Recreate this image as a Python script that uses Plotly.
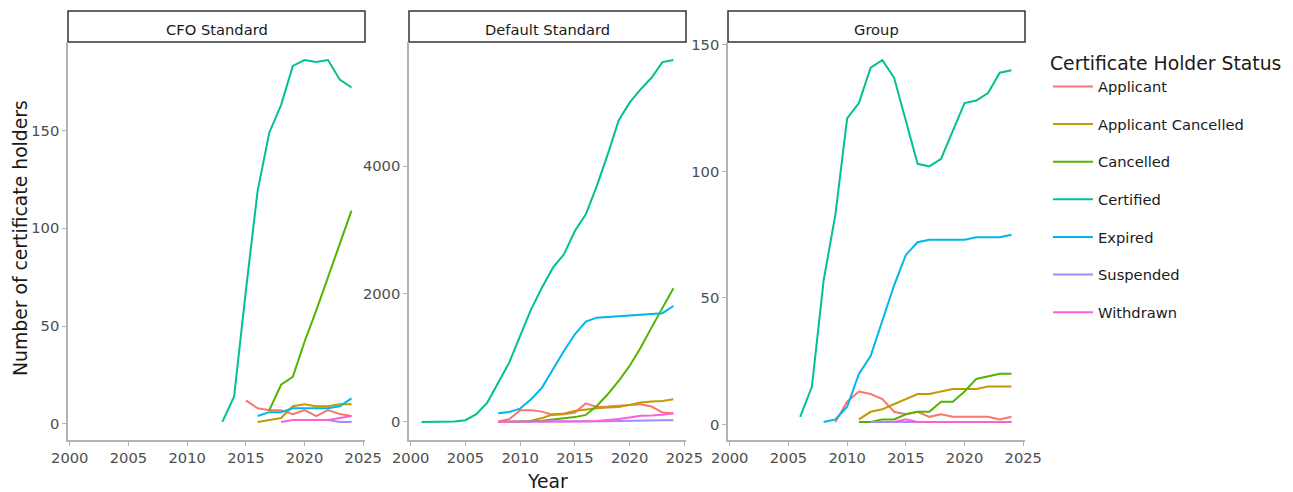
import plotly.graph_objects as go

# ---------------- data ----------------
panels = ["CFO Standard", "Default Standard", "Group"]
statuses = ["Applicant", "Applicant Cancelled", "Cancelled", "Certified",
            "Expired", "Suspended", "Withdrawn"]
colors = ["#F8766D", "#C49A00", "#53B400", "#00C094", "#00B6EB", "#A58AFF", "#FB61D7"]

# CFO Standard (first year, values)
cfo_applicant = (2015, [12, 8, 7, 7, 5, 7, 4, 7, 5, 4])
cfo_applicant_cancelled = (2016, [1, 2, 3, 9, 10, 9, 9, 10, 10])
cfo_cancelled = (2017, [7, 20, 24, 42, 58, 75, 93, 109])
cfo_certified = (2013, [1, 14, 68, 119, 149, 163, 183, 186, 185, 186, 176, 172])
cfo_expired = (2016, [4, 6, 6, 8, 8, 8, 8, 9, 13])
cfo_suspended = (2019, [2, 2, 2, 2, 1, 1])
cfo_withdrawn = (2018, [1, 2, 2, 2, 2, 3, 4])

# Default Standard
def_applicant = (2008, [5, 42, 182, 182, 161, 109, 120, 146, 290, 235, 240, 250, 265, 276, 240, 146, 130])
def_applicant_cancelled = (2008, [0, 0, 5, 20, 60, 120, 130, 172, 198, 214, 224, 234, 266, 302, 318, 328, 354])
def_cancelled = (2008, [0, 0, 5, 10, 20, 40, 55, 75, 109, 250, 432, 640, 875, 1161, 1474, 1786, 2089])
def_certified = (2001, [0, 0, 2, 5, 26, 120, 302, 614, 926, 1344, 1760, 2100, 2411, 2620, 2984,
                        3245, 3687, 4182, 4714, 4990, 5198, 5380, 5625, 5656])
def_expired = (2008, [136, 156, 208, 354, 536, 823, 1109, 1370, 1568, 1630, 1640, 1650, 1660, 1670, 1680, 1700, 1812])
def_suspended = (2008, [0, 0, 0, 0, 0, 0, 0, 0, 5, 5, 10, 15, 20, 20, 25, 25, 25])
def_withdrawn = (2008, [0, 0, 0, 0, 0, 5, 5, 10, 10, 15, 25, 45, 70, 95, 100, 110, 135])

# Group
grp_applicant = (2009, [1, 9, 13, 12, 10, 5, 4, 5, 3, 4, 3, 3, 3, 3, 2, 3])
grp_applicant_cancelled = (2011, [2, 5, 6, 8, 10, 12, 12, 13, 14, 14, 14, 15, 15, 15])
grp_cancelled = (2011, [1, 1, 2, 2, 4, 5, 5, 9, 9, 13, 18, 19, 20, 20])
grp_certified = (2006, [3, 15, 57, 83, 121, 127, 141, 144, 137, 120, 103, 102, 105, 116, 127, 128, 131, 139, 140])
grp_expired = (2008, [1, 2, 7, 20, 27, 41, 55, 67, 72, 73, 73, 73, 73, 74, 74, 74, 75])
grp_suspended = (2012, [1, 1, 1, 1, 1, 1, 1, 1, 1, 1, 1, 1, 1])
grp_withdrawn = (2014, [1, 2, 1, 1, 1, 1, 1, 1, 1, 1, 1])

panel_data = [
    [cfo_applicant, cfo_applicant_cancelled, cfo_cancelled, cfo_certified, cfo_expired, cfo_suspended, cfo_withdrawn],
    [def_applicant, def_applicant_cancelled, def_cancelled, def_certified, def_expired, def_suspended, def_withdrawn],
    [grp_applicant, grp_applicant_cancelled, grp_cancelled, grp_certified, grp_expired, grp_suspended, grp_withdrawn],
]

x_ticks = [2000, 2005, 2010, 2015, 2020, 2025]
y_ticks = [[0, 50, 100, 150], [0, 2000, 4000], [0, 50, 100, 150]]

# ---------------- layout geometry (pixels) ----------------
W, H = 1293, 492
x_px = [(68, 365), (409, 686), (728, 1025)]
y_top_px, y_bot_px = 42, 440
strip_top_px = 11

def fx(p):
    return p / W

def fy(p):
    return 1 - p / H

fig = go.Figure()

for si, st in enumerate(statuses):
    for pi in range(3):
        start, vals = panel_data[pi][si]
        yrs = list(range(start, start + len(vals)))
        fig.add_trace(go.Scatter(
            x=yrs, y=vals, mode="lines",
            line=dict(color=colors[si], width=2),
            name=st, legendgroup=st, showlegend=(pi == 0),
            xaxis="x" if pi == 0 else f"x{pi+1}",
            yaxis="y" if pi == 0 else f"y{pi+1}",
        ))

axis_line = "#b3b3b3"
small = 14.7
big = 18.8
tick_font = dict(family="DejaVu Sans", size=small, color="#4d4d4d")

# x range with 5% expansion over data years
all_years = []
for pd_ in panel_data:
    for start, vals in pd_:
        all_years += [start, start + len(vals) - 1]
xmin, xmax = min(all_years), max(all_years)
xpad = 0.05 * (xmax - xmin)
xrange = [xmin - xpad, xmax + xpad]

layout = dict(
    width=W, height=H,
    margin=dict(l=0, r=0, t=0, b=0, autoexpand=False),
    paper_bgcolor="white", plot_bgcolor="white",
    font=dict(family="DejaVu Sans", color="#1a1a1a"),
    showlegend=True,
    legend=dict(
        x=fx(1048), y=fy(46), xanchor="left", yanchor="top",
        title=dict(text="Certificate Holder Status", font=dict(size=big, color="#1a1a1a")),
        font=dict(size=small, color="#1a1a1a"),
        tracegroupgap=15.5, itemwidth=40,
        bgcolor="rgba(0,0,0,0)",
    ),
)

shapes = []
annotations = []
for pi in range(3):
    xs = "" if pi == 0 else str(pi + 1)
    start_vals = [v for _, vals in panel_data[pi] for v in vals]
    vmax, vmin = max(start_vals), min(start_vals)
    pad = 0.05 * (vmax - vmin)
    layout[f"xaxis{xs}"] = dict(
        domain=[fx(x_px[pi][0]), fx(x_px[pi][1])], anchor=f"y{xs}",
        range=xrange, tickvals=x_ticks, ticktext=[str(t) for t in x_ticks],
        showline=True, linecolor=axis_line, linewidth=1.5,
        ticks="outside", ticklen=4, tickwidth=1, tickcolor=axis_line,
        showgrid=False, zeroline=False, tickfont=tick_font, automargin=False,
    )
    layout[f"yaxis{xs}"] = dict(
        domain=[fy(y_bot_px), fy(y_top_px)], anchor=f"x{xs}",
        range=[vmin - pad, vmax + pad], tickvals=y_ticks[pi],
        ticktext=[str(t) for t in y_ticks[pi]],
        showline=True, linecolor=axis_line, linewidth=1.5,
        ticks="outside", ticklen=4, tickwidth=1, tickcolor=axis_line,
        showgrid=False, zeroline=False, tickfont=tick_font, automargin=False,
    )
    shapes.append(dict(
        type="rect", xref="paper", yref="paper",
        x0=fx(x_px[pi][0]), x1=fx(x_px[pi][1]),
        y0=fy(y_top_px), y1=fy(strip_top_px),
        line=dict(color="#333333", width=1.5), fillcolor="white", layer="below",
    ))
    annotations.append(dict(
        text=panels[pi], xref="paper", yref="paper",
        x=fx((x_px[pi][0] + x_px[pi][1]) / 2), y=fy(29),
        xanchor="center", yanchor="middle", showarrow=False,
        font=dict(size=small, color="#1a1a1a"),
    ))

annotations.append(dict(
    text="Year", xref="paper", yref="paper", x=fx(547), y=fy(481),
    xanchor="center", yanchor="middle", showarrow=False,
    font=dict(size=big, color="#1a1a1a"),
))
annotations.append(dict(
    text="Number of certificate holders", xref="paper", yref="paper",
    x=fx(20), y=fy(238), xanchor="center", yanchor="middle",
    textangle=-90, showarrow=False, font=dict(size=big, color="#1a1a1a"),
))

layout["shapes"] = shapes
layout["annotations"] = annotations
fig.update_layout(**layout)
fig.write_html("out.html")
